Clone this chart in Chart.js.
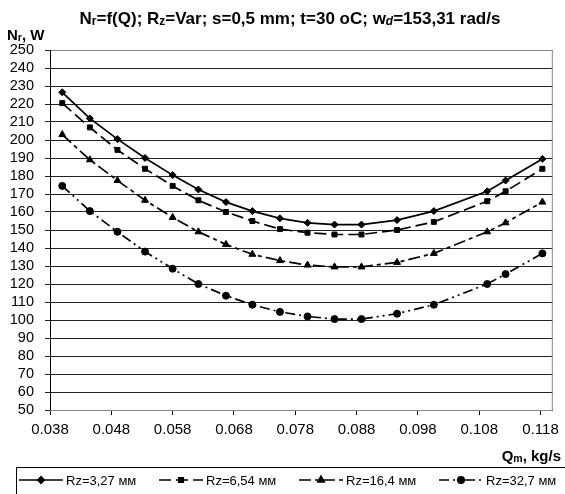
<!DOCTYPE html>
<html>
<head>
<meta charset="utf-8">
<script src="https://cdn.jsdelivr.net/npm/chart.js@4"></script>
<style>
  html, body { margin: 0; padding: 0; background: #fff; }
  #wrap { width: 565px; height: 494px; position: relative; }
</style>
</head>
<body>
<div id="wrap"><canvas id="c" width="565" height="494"></canvas></div>
<script>
// data
const qValues = [0.040, 0.0445, 0.049, 0.0535, 0.058, 0.0622, 0.0667, 0.071, 0.0755, 0.080, 0.0844, 0.0888, 0.0946, 0.1006, 0.1093, 0.1123, 0.1183];
const rz327 = [226.5, 212, 200.5, 190, 180.5, 172.5, 165.5, 160.5, 156.5, 154, 153, 153, 155.5, 160.5, 171.5, 177.5, 189.5];
const rz654 = [220.5, 207, 194.5, 184, 174.5, 166.5, 160, 155, 150.5, 148.5, 147.5, 147.5, 150, 154.5, 166, 171.5, 184];
const rz164 = [203, 189, 177.5, 166.5, 157, 149, 142, 136.5, 133, 130.5, 129.5, 129.5, 132, 137, 149, 154, 165.5];
const rz327b = [174.5, 160.5, 149, 138, 128.5, 120, 113.5, 108.5, 104.5, 102, 100.5, 100.5, 103.5, 108.5, 120, 125.5, 137];
const seriesNames = ["Rz=3,27 мм", "Rz=6,54 мм", "Rz=16,4 мм", "Rz=32,7 мм"];
const xTicks = [0.038, 0.048, 0.058, 0.068, 0.078, 0.088, 0.098, 0.108, 0.118];

const FONT = "'Liberation Sans', Arial, sans-serif";
const styles = [
  { point: "rectRot", r: 3.5, dash: [] },
  { point: "rect", r: 3.5, dash: [12, 5] },
  { point: "triangle", r: 4, dash: [12, 4, 4, 4] },
  { point: "circle", r: 3.5, dash: [10, 4, 2, 4, 2, 4] },
];
const allSeries = [rz327, rz654, rz164, rz327b];

const datasets = allSeries.map((vals, i) => ({
  label: seriesNames[i],
  data: qValues.map((x, j) => ({ x, y: vals[j] })),
  borderColor: "#000", backgroundColor: "#000", borderWidth: 1.7,
  borderDash: styles[i].dash,
  pointStyle: styles[i].point, pointRadius: styles[i].r, pointBorderWidth: 1,
  showLine: true, tension: 0,
}));

// text with subscripts: parts = [[text, sub?, italic?], ...]
function richText(ctx, parts, x, y, size, bold, align) {
  const fnt = (s, it) => `${it ? "italic " : ""}${bold ? "bold " : ""}${s}px ${FONT}`;
  let total = 0;
  parts.forEach(([t, sub, it]) => { ctx.font = fnt(sub ? size * 0.7 : size, it); total += ctx.measureText(t).width; });
  let cx = align === "right" ? x - total : align === "center" ? x - total / 2 : x;
  ctx.textAlign = "left"; ctx.textBaseline = "alphabetic";
  parts.forEach(([t, sub, it]) => {
    ctx.font = fnt(sub ? size * 0.7 : size, it);
    ctx.fillText(t, cx, sub ? y + 1 : y);
    cx += ctx.measureText(t).width;
  });
}

const decor = {
  id: "decor",
  afterDraw(chart) {
    const ctx = chart.ctx, a = chart.chartArea;
    ctx.save();
    // plot area border
    ctx.strokeStyle = "#888"; ctx.lineWidth = 1;
    ctx.strokeRect(a.left + 0.5, a.top + 0.5, a.right - a.left - 1, a.bottom - a.top);
    ctx.strokeStyle = "#000";
    ctx.beginPath(); ctx.moveTo(a.left + 0.5, a.top); ctx.lineTo(a.left + 0.5, a.bottom); ctx.stroke();
    ctx.fillStyle = "#000";
    richText(ctx, [["N"], ["r", true], ["=f(Q); R"], ["z", true], ["=Var; s=0,5 mm; t=30 oC; w"], ["d", true, true], ["=153,31 rad/s"]], 290, 24, 17, true, "center");
    richText(ctx, [["N"], ["r", true], [", W"]], 7, 40, 15, true, "left");
    richText(ctx, [["Q"], ["m", true], [", kg/s"]], 561, 461, 15, true, "right");
    // legend
    ctx.strokeStyle = "#000"; ctx.lineWidth = 1; ctx.setLineDash([]);
    ctx.strokeRect(16.5, 467.5, 560, 40);
    seriesNames.forEach((name, i) => {
      const x0 = 19 + i * 140, y0 = 480;
      ctx.setLineDash(styles[i].dash);
      ctx.lineWidth = 1.7;
      ctx.beginPath(); ctx.moveTo(x0, y0); ctx.lineTo(x0 + 44, y0); ctx.stroke();
      ctx.setLineDash([]);
      ctx.fillStyle = "#000";
      Chart.helpers.drawPoint(ctx, { pointStyle: styles[i].point, radius: styles[i].r - 0.3, rotation: 0, borderWidth: 1 }, x0 + 22, y0);
      ctx.font = `13px ${FONT}`; ctx.textBaseline = "middle"; ctx.textAlign = "left";
      ctx.fillText(name, x0 + 47, y0 + 1);
    });
    ctx.restore();
  },
};

new Chart(document.getElementById("c"), {
  type: "scatter",
  data: { datasets },
  options: {
    responsive: false, animation: false,
    layout: { padding: { top: 50, right: 10, left: 0, bottom: 0 } },
    plugins: { legend: { display: false }, tooltip: { enabled: false } },
    scales: {
      x: {
        type: "linear", min: 0.038, max: 0.12,
        afterBuildTicks: (s) => { s.ticks = xTicks.map((v) => ({ value: v })); },
        afterFit: (s) => { s.height = 84; },
        ticks: { callback: (v) => v.toFixed(3), color: "#000", font: { family: FONT, size: 15 }, maxRotation: 0, autoSkip: false, padding: 6 },
        grid: { drawOnChartArea: false, color: "#000", tickLength: 5 },
        border: { color: "#000" },
      },
      y: {
        min: 50, max: 250,
        afterFit: (s) => { s.width = 50; },
        ticks: { stepSize: 10, autoSkip: false, color: "#000", font: { family: FONT, size: 14.5 }, padding: 11 },
        grid: { color: "#222", tickLength: 5 },
        border: { color: "#000" },
      },
    },
  },
  plugins: [decor],
});
</script>
</body>
</html>
